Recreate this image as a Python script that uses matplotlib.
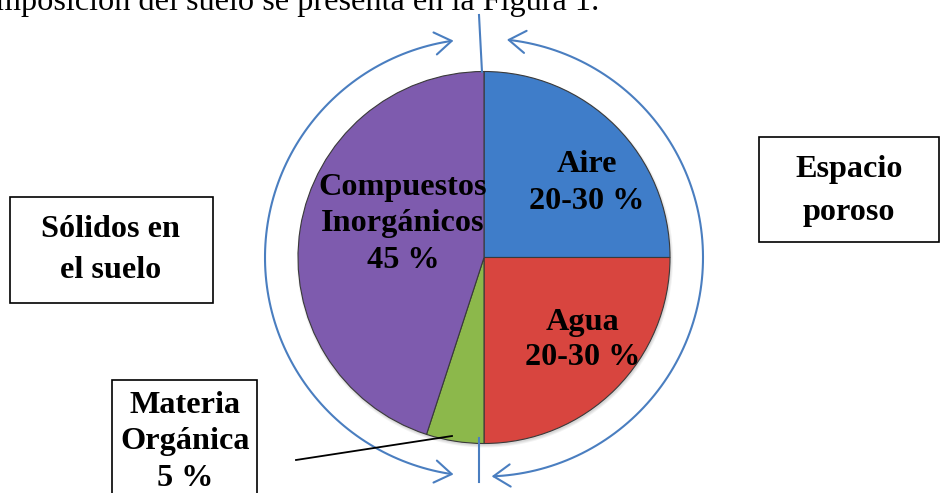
import numpy as np
import matplotlib
matplotlib.use("Agg")
import matplotlib.pyplot as plt
from matplotlib.patches import Wedge, Rectangle, FancyArrowPatch, Circle
from matplotlib.path import Path

# ---- data ----
categories = ["Aire", "Agua", "Materia Orgánica", "Compuestos Inorgánicos"]
shares = [25, 25, 5, 45]
slice_labels = ["Aire\n20-30 %", "Agua\n20-30 %", "", "Compuestos\nInorgánicos\n45 %"]
colors = ["#3F7DC9", "#D8453F", "#8CB84B", "#7E5BAE"]
box_texts = ["Espacio\nporoso", "Sólidos en\nel suelo", "Materia\nOrgánica\n5 %"]
top_text = "mposición del suelo se presenta en la Figura 1."

W, H = 941, 493
fig = plt.figure(figsize=(W / 100, H / 100), dpi=100)
ax = fig.add_axes([0, 0, 1, 1])
ax.set_xlim(0, W)
ax.set_ylim(H, 0)
ax.set_aspect("equal")
ax.axis("off")

serif = ["Liberation Serif", "DejaVu Serif"]
fs = 23.2

cx, cy, r = 484, 257.5, 186

# shadow
for k, a in enumerate([0.05, 0.05, 0.06]):
    ax.add_patch(Circle((cx + 1, cy + 2), r + 2 - k, facecolor="black", alpha=a, edgecolor="none", zorder=1))

# pie wedges: clockwise from 12 o'clock (y axis inverted)
angle = -90.0
for val, col in zip(shares, colors):
    span = val / sum(shares) * 360.0
    w = Wedge((cx, cy), r, angle, angle + span, facecolor=col, edgecolor="#3a3a3a", linewidth=0.8, zorder=2)
    ax.add_patch(w)
    angle += span

def label(x, y, txt, ls):
    ax.text(x, y, txt, ha="center", va="center", fontsize=fs, fontweight="bold",
            family=serif, linespacing=ls, zorder=5)

# slice labels
label(587, 183, slice_labels[0], 1.38)
label(583, 340, slice_labels[1], 1.3)
label(403, 224, slice_labels[3], 1.34)

# boxes
def box(x0, y0, x1, y1, txt, tx, ty, ls):
    ax.add_patch(Rectangle((x0, y0), x1 - x0, y1 - y0, facecolor="white", edgecolor="black",
                           linewidth=1.2, zorder=4))
    label(tx, ty, txt, ls)

box(759, 137, 939, 242, box_texts[0], 849, 191, 1.65)
box(10, 197, 213, 303, box_texts[1], 111, 250, 1.56)
box(112, 380, 257, 500, box_texts[2], 185, 442, 1.34)

# leader line
ax.plot([296, 452], [460, 436], color="black", linewidth=1.3, zorder=6)

# vertical guide lines
ax.plot([479, 482], [15, 72], color="#4A7EC0", linewidth=1.5, zorder=3)
ax.plot([479, 479], [438, 482], color="#4A7EC0", linewidth=1.5, zorder=3)

# curved arrows (circular arcs)
R = 219
def arc(t0, t1):
    t = np.radians(np.linspace(t0, t1, 120))
    pts = np.column_stack([cx + R * np.cos(t), cy - R * np.sin(t)])
    return Path(pts)

for t0, t1 in [(98, 262), (84, -88)]:
    p = FancyArrowPatch(path=arc(t0, t1), arrowstyle="<->,head_length=12,head_width=8",
                        color="#4A7EC0", linewidth=1.5, zorder=3)
    ax.add_patch(p)

# cut-off top text
ax.text(-4, 10, top_text, ha="left", va="baseline", fontsize=fs, family=serif, color="black")

fig.savefig("out.png", dpi=100)
